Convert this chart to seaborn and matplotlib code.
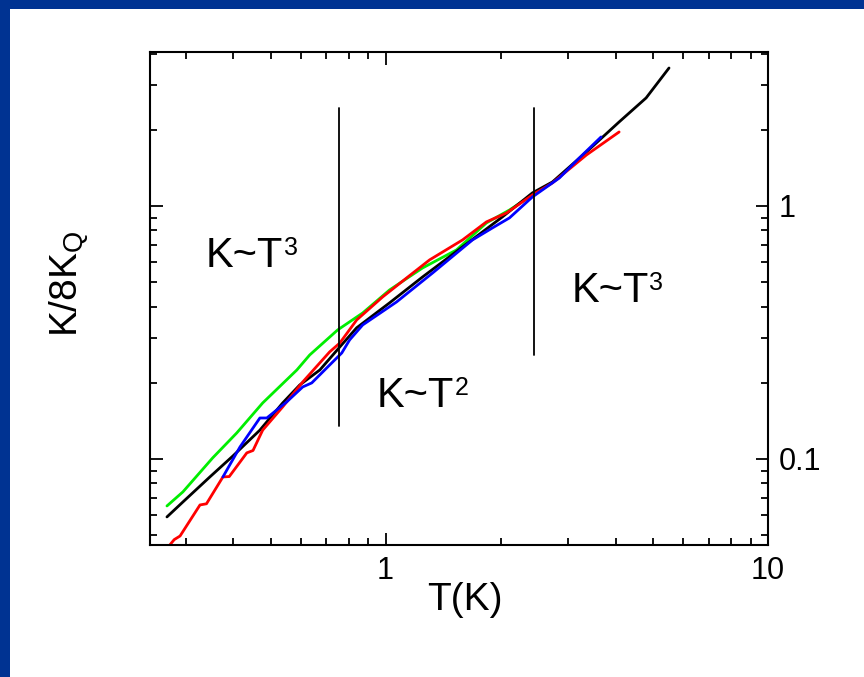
import matplotlib
matplotlib.use("Agg")
import matplotlib.pyplot as plt
import matplotlib.ticker as mticker
from matplotlib.patches import Rectangle
import seaborn as sns
import pandas as pd

# ---- data ----
green_T = [0.268, 0.295, 0.353, 0.408, 0.477, 0.586, 0.633, 0.749, 0.871, 1.024, 1.249, 1.532, 1.835, 2.108, 2.42]
green_K = [0.0652, 0.0741, 0.101, 0.1267, 0.1665, 0.2248, 0.2576, 0.3235, 0.3776, 0.4656, 0.5687, 0.670, 0.857, 0.964, 1.105]

black_T = [0.268, 0.295, 0.347, 0.3985, 0.469, 0.538, 0.596, 0.673, 0.759, 0.840, 1.024, 1.249, 1.589, 2.02, 2.42, 2.73, 3.35, 4.08, 4.80, 5.51]
black_K = [0.0590, 0.0676, 0.0849, 0.1027, 0.130, 0.1665, 0.196, 0.2248, 0.2772, 0.330, 0.414, 0.524, 0.689, 0.905, 1.126, 1.244, 1.634, 2.148, 2.673, 3.51]

red_T = [0.270, 0.280, 0.290, 0.327, 0.340, 0.3754, 0.390, 0.4335, 0.450, 0.477, 0.538, 0.607, 0.714, 0.759, 0.840, 0.982, 1.134, 1.303, 1.589, 1.835, 2.07, 2.42, 2.73, 3.35, 4.08]
red_K = [0.0449, 0.0480, 0.0496, 0.0658, 0.0665, 0.0849, 0.0852, 0.1057, 0.1080, 0.130, 0.1606, 0.2015, 0.265, 0.2873, 0.3543, 0.4368, 0.519, 0.612, 0.734, 0.865, 0.938, 1.105, 1.233, 1.590, 1.961]

blue_T = [0.3754, 0.416, 0.469, 0.489, 0.551, 0.607, 0.641, 0.714, 0.768, 0.805, 0.871, 1.068, 1.327, 1.687, 1.903, 2.108, 2.42, 2.847, 3.21, 3.66]
blue_K = [0.0849, 0.1115, 0.1452, 0.1452, 0.168, 0.1926, 0.1998, 0.2352, 0.2624, 0.2954, 0.3386, 0.4174, 0.5434, 0.734, 0.819, 0.897, 1.085, 1.290, 1.548, 1.874]

series_names = ["green", "black", "red", "blue"]
series_colors = {"green": "#00ee00", "black": "#000000", "red": "#ff0000", "blue": "#0000ff"}

divider_T = [0.754, 2.45]
divider_low = [0.135, 0.258]
divider_high = [2.44, 2.44]

label_main = ["K~T", "K~T", "K~T"]
label_power = ["3", "2", "3"]
label_T = [0.339, 0.947, 3.06]
label_K = [0.574, 0.1606, 0.418]

frames = []
for name, T, K in [("green", green_T, green_K), ("black", black_T, black_K),
                   ("red", red_T, red_K), ("blue", blue_T, blue_K)]:
    frames.append(pd.DataFrame({"T": T, "K": K, "series": name}))
df = pd.concat(frames, ignore_index=True)

# ---- style ----
sns.set_theme(style="white")
plt.rcParams["font.family"] = ["Liberation Sans", "DejaVu Sans"]
plt.rcParams["mathtext.fontset"] = "custom"
plt.rcParams["mathtext.rm"] = "Liberation Sans"
plt.rcParams["mathtext.it"] = "Liberation Sans"
for key in ["text.color", "axes.labelcolor", "xtick.color", "ytick.color", "axes.edgecolor"]:
    plt.rcParams[key] = "black"

fig = plt.figure(figsize=(8.64, 6.77), dpi=100)
fig.patch.set_facecolor("white")
# blue frame on top and left
fig.patches.append(Rectangle((0, 1 - 9 / 677), 1, 9 / 677, transform=fig.transFigure,
                             facecolor="#003392", edgecolor="none", zorder=-1))
fig.patches.append(Rectangle((0, 0), 10 / 864, 1, transform=fig.transFigure,
                             facecolor="#003392", edgecolor="none", zorder=-1))

ax = fig.add_axes([150 / 864, 1 - 545 / 677, 618 / 864, 493 / 677])

sns.lineplot(data=df, x="T", y="K", hue="series", hue_order=series_names,
             palette=series_colors, sort=False, estimator=None, units="series",
             linewidth=2.0, legend=False, ax=ax)

for t, lo, hi in zip(divider_T, divider_low, divider_high):
    ax.plot([t, t], [lo, hi], color="black", linewidth=1.3)

for s, p, t, k in zip(label_main, label_power, label_T, label_K):
    main = ax.text(t, k, s, fontsize=30, ha="left", va="baseline", color="black")
    ax.annotate(p, xy=(1, 1), xycoords=main, xytext=(0.5, 0), textcoords="offset points",
                fontsize=18, ha="left", va="top", color="black")

ax.set_xscale("log")
ax.set_yscale("log")
ax.set_xlim(0.242, 10)
ax.set_ylim(0.0457, 4.06)

ax.xaxis.set_major_locator(mticker.FixedLocator([1, 10]))
ax.xaxis.set_major_formatter(mticker.FixedFormatter(["1", "10"]))
ax.xaxis.set_minor_locator(mticker.LogLocator(base=10, subs=range(2, 10)))
ax.xaxis.set_minor_formatter(mticker.NullFormatter())
ax.yaxis.set_major_locator(mticker.FixedLocator([0.1, 1]))
ax.yaxis.set_major_formatter(mticker.FixedFormatter(["0.1", "1"]))
ax.yaxis.set_minor_locator(mticker.LogLocator(base=10, subs=range(2, 10)))
ax.yaxis.set_minor_formatter(mticker.NullFormatter())

ax.tick_params(which="both", direction="in", top=True, right=True, bottom=True, left=True,
               labelleft=False, labelright=True, color="black", labelcolor="black", width=1.3)
ax.tick_params(which="major", length=9, labelsize=22, pad=8)
ax.tick_params(which="minor", length=5)

for sp in ax.spines.values():
    sp.set_color("black")
    sp.set_linewidth(1.5)

ax.set_xlabel("T(K)", fontsize=28, color="black")
ax.set_ylabel("K/8K$_\\mathrm{Q}$", fontsize=28, color="black")
ax.xaxis.set_label_coords(0.51, -0.075)
ax.yaxis.set_label_coords(-0.095, 0.53)

fig.savefig("out.png", dpi=100, facecolor=fig.get_facecolor())
